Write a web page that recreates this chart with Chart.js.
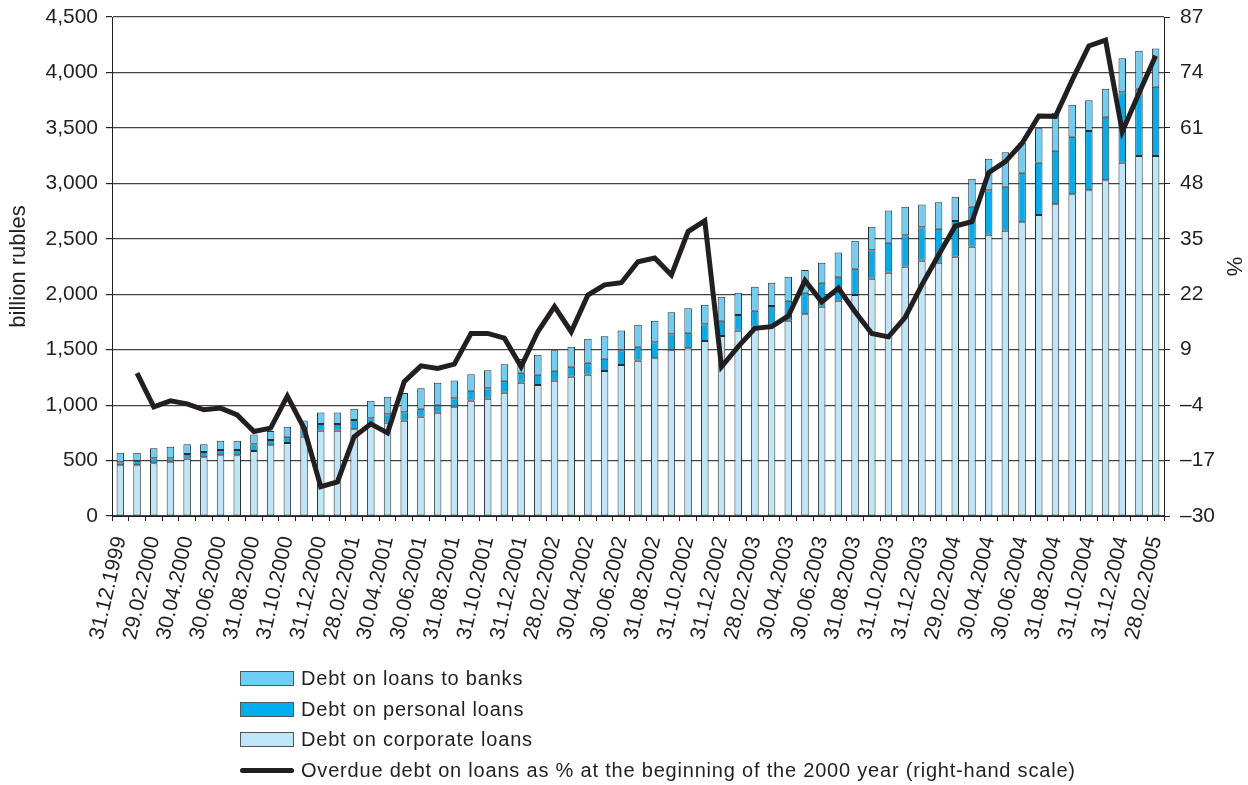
<!DOCTYPE html>
<html>
<head>
<meta charset="utf-8">
<script src="https://cdn.jsdelivr.net/npm/chart.js@4"></script>
<style>
    html, body { margin: 0; padding: 0; background: #fff; }
    #wrap { position: relative; width: 1248px; height: 785px; overflow: hidden; }
    #myChart { position: absolute; left: 0; top: 0; }
    #legend { position: absolute; left: 240px; top: 663px; font-family: "Liberation Sans", Arial, sans-serif; font-size: 20px; letter-spacing: 0.8px; color: #231f20; }
    .item { display: flex; align-items: center; height: 30.7px; }
    .swatch { width: 54px; height: 15px; box-sizing: border-box; border: 1px solid #555; margin-right: 7px; }
    .dash { width: 54px; height: 5px; background: #231f20; border-radius: 3px; margin-right: 7px; }
</style>
</head>
<body>
<div id="wrap">
    <canvas id="myChart" width="1248" height="785"></canvas>
    <div id="legend"></div>
</div>
<script>
const labels = [
    '31.12.1999',
    '31.01.2000', '29.02.2000', '31.03.2000', '30.04.2000', '31.05.2000', '30.06.2000',
    '31.07.2000', '31.08.2000', '30.09.2000', '31.10.2000', '30.11.2000', '31.12.2000',
    '31.01.2001', '28.02.2001', '31.03.2001', '30.04.2001', '31.05.2001', '30.06.2001',
    '31.07.2001', '31.08.2001', '30.09.2001', '31.10.2001', '30.11.2001', '31.12.2001',
    '31.01.2002', '28.02.2002', '31.03.2002', '30.04.2002', '31.05.2002', '30.06.2002',
    '31.07.2002', '31.08.2002', '30.09.2002', '31.10.2002', '30.11.2002', '31.12.2002',
    '31.01.2003', '28.02.2003', '31.03.2003', '30.04.2003', '31.05.2003', '30.06.2003',
    '31.07.2003', '31.08.2003', '30.09.2003', '31.10.2003', '30.11.2003', '31.12.2003',
    '31.01.2004', '29.02.2004', '31.03.2004', '30.04.2004', '31.05.2004', '30.06.2004',
    '31.07.2004', '31.08.2004', '30.09.2004', '31.10.2004', '30.11.2004', '31.12.2004',
    '31.01.2005', '28.02.2005'
];

// billion rubles
const corporate = [
    457, 457, 475, 490, 517, 529, 547, 547, 586, 637, 658, 715, 769,
    769, 782, 821, 842, 859, 895, 931, 986, 1040, 1058, 1112, 1202,
    1181, 1220, 1256, 1274, 1307, 1362, 1400, 1422, 1494, 1512, 1578, 1623,
    1671, 1707, 1713, 1761, 1819, 1887, 1941, 1993, 2140, 2194, 2248, 2302,
    2284, 2338, 2428, 2537, 2573, 2648, 2714, 2811, 2901, 2937, 3027, 3186,
    3246, 3246
];
const personal = [
    27, 41, 45, 30, 42, 48, 48, 48, 60, 48, 57, 78, 60,
    60, 84, 60, 76, 76, 72, 72, 76, 90, 94, 108, 90,
    93, 90, 90, 108, 111, 133, 126, 144, 146, 141, 151, 138,
    142, 144, 180, 180, 195, 216, 216, 237, 256, 271, 283, 301,
    307, 322, 361, 400, 397, 447, 472, 483, 519, 535, 573, 635,
    607, 625
];
const banks = [
    87, 72, 90, 105, 87, 69, 84, 84, 90, 81, 90, 69, 105,
    105, 102, 159, 158, 174, 184, 198, 159, 148, 162, 148, 124,
    180, 184, 180, 216, 202, 177, 198, 195, 197, 220, 177, 216,
    201, 216, 210, 216, 205, 180, 220, 252, 213, 289, 258, 207,
    238, 219, 252, 285, 310, 268, 310, 343, 289, 277, 252, 307,
    343, 346
];
// % (right-hand scale)
const overdue = [
    null, 3.5, -4.4, -3.0, -3.7, -5.1, -4.7, -6.3, -10.2, -9.4, -1.9, -9.4, -23.1,
    -22.0, -11.4, -8.4, -10.5, 1.5, 5.2, 4.6, 5.6, 12.8, 12.8, 11.7, 5.0,
    13.2, 19.1, 13.2, 21.8, 24.2, 24.7, 29.6, 30.5, 26.5, 36.7, 39.2, 5.0,
    9.7, 14.0, 14.4, 16.9, 25.2, 20.2, 23.4, 17.9, 12.8, 12.0, 16.6, 24.2,
    31.2, 38.0, 39.0, 50.5, 53.1, 57.4, 63.8, 63.7, 72.2, 80.2, 81.6, 60.1,
    69.1, 77.9
];

const ink = '#231f20';
Chart.defaults.font.family = '"Liberation Sans", Arial, sans-serif';
Chart.defaults.color = ink;

function barSet(label, data, color) {
    return {
        type: 'bar',
        label: label,
        data: data,
        backgroundColor: color,
        borderColor: '#2e2e2e',
        borderWidth: 1,
        borderSkipped: false,
        barPercentage: 0.45,
        categoryPercentage: 1,
        order: 1
    };
}

const ctx = document.getElementById('myChart').getContext('2d');
const chart = new Chart(ctx, {
    data: {
        labels: labels,
        datasets: [
            barSet('Debt on corporate loans', corporate, '#bde6f8'),
            barSet('Debt on personal loans', personal, '#00aeef'),
            barSet('Debt on loans to banks', banks, '#6dcff6'),
            {
                type: 'line',
                label: 'Overdue debt on loans as % at the beginning of the 2000 year (right-hand scale)',
                data: overdue,
                yAxisID: 'y1',
                borderColor: ink,
                borderWidth: 5,
                pointRadius: 0,
                tension: 0,
                fill: false,
                order: 0
            }
        ]
    },
    options: {
        responsive: false,
        animation: false,
        devicePixelRatio: 1,
        layout: { padding: { top: 17, bottom: 0, left: 0, right: 0 } },
        plugins: {
            legend: { display: false },
            tooltip: { enabled: false }
        },
        scales: {
            x: {
                stacked: true,
                grid: { offset: true, drawOnChartArea: false, color: ink, tickLength: 5 },
                border: { color: ink, width: 1 },
                ticks: {
                    autoSkip: false,
                    minRotation: 77,
                    maxRotation: 77,
                    padding: 13,
                    font: { size: 21 },
                    callback: function (v, i) {
                        return i % 2 === 0 ? this.getLabelForValue(v) : '';
                    }
                },
                afterFit: s => { s.height = 269; }
            },
            y: {
                position: 'left',
                stacked: true,
                min: 0,
                max: 4500,
                ticks: {
                    stepSize: 500,
                    padding: 8,
                    font: { size: 21, lineHeight: 0.7 },
                    callback: v => v.toLocaleString('en-US')
                },
                grid: { color: '#444', lineWidth: 1.2, tickColor: ink, tickLength: 6 },
                border: { color: ink, width: 1 },
                title: { display: true, text: 'billion rubles', font: { size: 22 }, padding: { top: 6, bottom: 2 } },
                afterFit: s => { s.width = 112; }
            },
            y1: {
                position: 'right',
                min: -30,
                max: 87,
                ticks: {
                    stepSize: 13,
                    padding: 10,
                    font: { size: 21, lineHeight: 0.6 },
                    callback: v => v < 0 ? '\u2013' + Math.abs(v) : String(v)
                },
                grid: { drawOnChartArea: false, color: ink, tickLength: 6 },
                border: { color: ink, width: 1 },
                title: { display: true, text: '%', font: { size: 22 }, padding: { top: 2, bottom: 2 } },
                afterFit: s => { s.width = 84; }
            }
        }
    }
});

// legend below the chart, stacked as in the source
const legendOrder = [2, 1, 0, 3];
const legendEl = document.getElementById('legend');
legendOrder.forEach(i => {
    const ds = chart.data.datasets[i];
    const row = document.createElement('div');
    row.className = 'item';
    const mark = document.createElement('span');
    if (ds.type === 'line') {
        mark.className = 'dash';
    } else {
        mark.className = 'swatch';
        mark.style.background = ds.backgroundColor;
    }
    const text = document.createElement('span');
    text.textContent = ds.label;
    row.appendChild(mark);
    row.appendChild(text);
    legendEl.appendChild(row);
});
</script>
</body>
</html>
